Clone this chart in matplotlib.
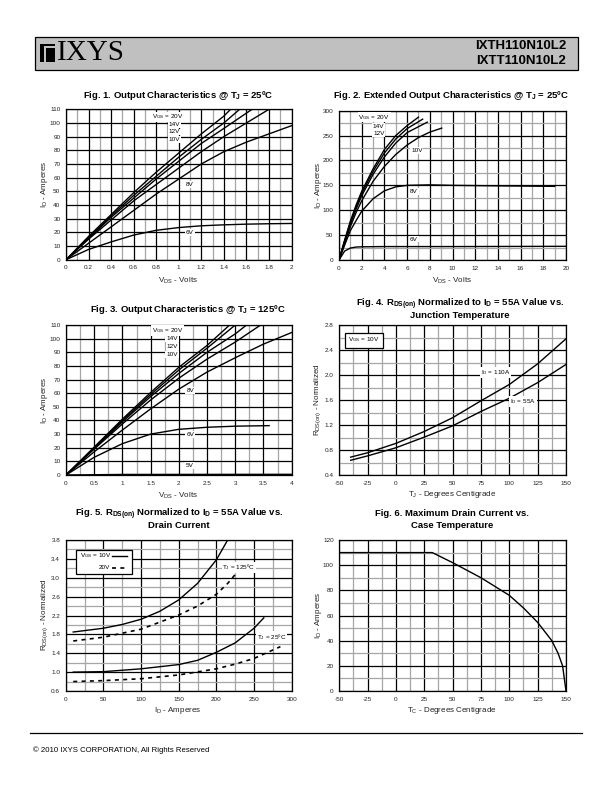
import matplotlib
matplotlib.use("Agg")
import matplotlib.pyplot as plt
from matplotlib.patches import Rectangle
from matplotlib.lines import Line2D
import numpy as np

plt.rcParams['font.family'] = ['Liberation Sans', 'DejaVu Sans']
plt.rcParams['mathtext.default'] = 'regular'

# ---------------- data ----------------
# Fig 1: output characteristics @ Tj = 25C  (VDS volts, ID amps)
f1_20v_x = [0, 0.2, 0.4, 0.6, 0.8, 1.0, 1.2, 1.4, 1.46]
f1_20v_y = [0, 17, 33, 49, 64, 78, 92, 105, 110]
f1_14v_x = [0, 0.2, 0.4, 0.6, 0.8, 1.0, 1.2, 1.4, 1.54]
f1_14v_y = [0, 16, 32, 47, 61, 75, 88, 100, 110]
f1_12v_x = [0, 0.2, 0.4, 0.6, 0.8, 1.0, 1.2, 1.4, 1.65]
f1_12v_y = [0, 15.5, 31, 45, 59, 72, 85, 96, 110]
f1_10v_x = [0, 0.2, 0.4, 0.6, 0.8, 1.0, 1.2, 1.4, 1.6, 1.8]
f1_10v_y = [0, 15, 29, 43, 55, 67, 79, 90, 100, 110]
f1_8v_x = [0, 0.2, 0.4, 0.6, 0.8, 1.0, 1.2, 1.4, 1.6, 1.8, 2.0]
f1_8v_y = [0, 12, 24, 36, 48, 59, 70, 79, 86, 92, 98]
f1_6v_x = [0, 0.2, 0.4, 0.6, 0.8, 1.0, 1.2, 1.4, 1.6, 1.8, 2.0]
f1_6v_y = [0, 7.5, 13, 18, 21.5, 23.5, 24.8, 25.5, 26, 26.3, 26.5]

# Fig 2: extended output characteristics @ Tj = 25C
f2_20v_x = [0, 0.5, 1, 1.5, 2, 3, 4, 5, 6, 7]
f2_20v_y = [0, 40, 78, 110, 138, 183, 222, 250, 270, 287]
f2_14v_x = [0, 0.5, 1, 1.5, 2, 3, 4, 5, 6, 7.37]
f2_14v_y = [0, 39, 75, 106, 134, 178, 215, 243, 264, 283]
f2_12v_x = [0, 0.5, 1, 1.5, 2, 3, 4, 5, 6, 7.78]
f2_12v_y = [0, 37, 72, 102, 129, 172, 207, 235, 256, 277]
f2_10v_x = [0, 0.5, 1, 1.5, 2, 3, 4, 5, 6, 7, 8, 9.05]
f2_10v_y = [0, 34, 67, 95, 119, 158, 188, 212, 231, 246, 257, 265]
f2_8v_x = [0, 0.5, 1, 1.5, 2, 3, 4, 5, 6, 8, 10, 14, 19]
f2_8v_y = [0, 30, 59, 79, 98, 123, 139, 147, 150, 151, 150, 149, 148]
f2_6v_x = [0, 0.5, 1, 1.5, 2, 4, 10, 20]
f2_6v_y = [0, 18, 24, 26, 26.5, 27, 27, 27.5]

# Fig 3: output characteristics @ Tj = 125C
f3_20v_x = [0, 0.5, 1, 1.5, 2, 2.5, 2.9]
f3_20v_y = [0, 20.5, 41, 60.5, 79, 95, 110]
f3_14v_x = [0, 0.5, 1, 1.5, 2, 2.5, 3.0]
f3_14v_y = [0, 20, 40, 59, 77, 93, 110]
f3_12v_x = [0, 0.5, 1, 1.5, 2, 2.5, 3.0, 3.2]
f3_12v_y = [0, 19.5, 39, 57.5, 74.5, 90, 103.5, 110]
f3_10v_x = [0, 0.5, 1, 1.5, 2, 2.5, 3.0, 3.45]
f3_10v_y = [0, 19, 37.5, 55, 71, 85, 97.5, 110]
f3_8v_x = [0, 0.5, 1, 1.5, 2, 2.5, 3.0, 3.5, 4.0]
f3_8v_y = [0, 17, 33, 48.5, 63, 75.5, 86, 96, 104.5]
f3_6v_x = [0, 0.5, 1, 1.5, 2, 2.5, 3.0, 3.6]
f3_6v_y = [0, 13, 23, 30, 33.5, 35, 35.8, 36.2]
f3_5v_x = [0, 1, 4]
f3_5v_y = [0, 0.4, 0.5]

# Fig 4: RDS(on) normalized vs junction temperature
f4_t = [-40, -25, 0, 25, 50, 75, 100, 125, 150]
f4_110a = [0.69, 0.76, 0.91, 1.10, 1.32, 1.59, 1.85, 2.18, 2.58]
f4_55a = [0.64, 0.71, 0.84, 1.01, 1.19, 1.42, 1.63, 1.88, 2.17]

# Fig 5: RDS(on) normalized vs drain current
f5_125_10v_x = [10, 25, 50, 75, 100, 125, 150, 175, 200, 215]
f5_125_10v_y = [1.85, 1.88, 1.93, 2.01, 2.12, 2.29, 2.53, 2.88, 3.38, 3.8]
f5_125_20v_x = [10, 50, 100, 150, 175, 200, 215, 232]
f5_125_20v_y = [1.66, 1.74, 1.91, 2.21, 2.40, 2.65, 2.88, 3.2]
f5_25_10v_x = [10, 50, 100, 150, 175, 200, 225, 250, 263]
f5_25_10v_y = [1.00, 1.01, 1.07, 1.16, 1.25, 1.42, 1.62, 1.93, 2.15]
f5_25_20v_x = [10, 50, 100, 150, 200, 225, 250, 285]
f5_25_20v_y = [0.80, 0.82, 0.86, 0.94, 1.07, 1.17, 1.29, 1.54]

# Fig 6: maximum drain current vs case temperature
f6_t = [-50, 32, 50, 75, 100, 112.5, 125, 137.5, 143, 147, 150]
f6_id = [110, 110, 102, 90, 76, 66, 54.5, 40, 30, 20, 0]

# ---------------- helpers ----------------
W, H = 612, 792
fig = plt.figure(figsize=(W / 100, H / 100), dpi=100)


def px(x, y):
    return x / W, 1 - y / H


def make_ax(l, t, r, b):
    return fig.add_axes([l / W, 1 - b / H, (r - l) / W, (b - t) / H])


def setup(ax, xlim, ylim, xt, yt, xminor=(), yminor=(), xfmt="{:g}", yfmt="{:g}"):
    ax.set_xlim(*xlim)
    ax.set_ylim(*ylim)
    ax.set_xticks(xt)
    ax.set_xticklabels([xfmt.format(v) for v in xt])
    ax.set_yticks(yt)
    ax.set_yticklabels([yfmt.format(v) for v in yt])
    ax.set_xticks(xminor, minor=True)
    ax.set_yticks(yminor, minor=True)
    ax.grid(True, which="minor", color="#a6a6a6", lw=0.9)
    ax.grid(True, which="major", color="black", lw=0.9)
    ax.set_axisbelow(True)
    ax.tick_params(which="both", length=0, labelsize=4.6, pad=4, colors="#222222")
    for s in ax.spines.values():
        s.set_linewidth(0.9)


def lab(ax, x, y, s, ha="center"):
    ax.text(x, y, s, fontsize=4.6, ha=ha, va="center", zorder=4,
            bbox=dict(facecolor="white", edgecolor="none", pad=0.6))


def title(x, y, *lines):
    # each line placed on its own so subscripts don't widen the line gap
    for i, s in enumerate(lines):
        fig.text(*px(x, y + 12 * i), s, ha="center", va="center", fontsize=6.8,
                 fontweight="bold")


def xlabel(x, y, s):
    fig.text(*px(x, y), s, ha="center", va="center", fontsize=5.8, color="#222222")


def ylabel(x, y, s):
    fig.text(*px(x, y), s, ha="center", va="center", fontsize=5.8, rotation=90,
             color="#222222")


LW = 1.0

# ---------------- header / footer ----------------
fig.patches.append(Rectangle(px(35, 70), 543 / W, 33 / H, transform=fig.transFigure,
                             facecolor="#c0c0c0", edgecolor="black", lw=0.9))
fig.patches.append(Rectangle(px(40, 62), 15 / W, 18 / H, transform=fig.transFigure,
                             facecolor="black", edgecolor="none"))
fig.patches.append(Rectangle(px(44, 62), 1.6 / W, 14 / H, transform=fig.transFigure,
                             facecolor="#c0c0c0", edgecolor="none"))
fig.patches.append(Rectangle(px(44, 47.5), 11 / W, 1.6 / H, transform=fig.transFigure,
                             facecolor="#c0c0c0", edgecolor="none"))
fig.text(*px(57, 53), "IXYS", fontsize=21, family="Liberation Serif", va="center")
fig.text(*px(566, 46), "IXTH110N10L2", fontsize=9.5, fontweight="bold", ha="right", va="center")
fig.text(*px(566, 61), "IXTT110N10L2", fontsize=9.5, fontweight="bold", ha="right", va="center")

fig.add_artist(Line2D([30 / W, 582 / W], [1 - 733 / H, 1 - 733 / H], color="black", lw=0.9))
fig.text(*px(33, 750), "\u00a9 2010 IXYS CORPORATION, All Rights Reserved", fontsize=5.6,
         va="center")

# ---------------- Fig 1 ----------------
ax1 = make_ax(66, 109.3, 291.5, 259.7)
setup(ax1, (0, 2), (0, 110), np.round(np.arange(0, 2.01, 0.2), 1), range(0, 111, 10),
      xminor=np.round(np.arange(0.1, 2, 0.2), 1))
for xs, ys in [(f1_20v_x, f1_20v_y), (f1_14v_x, f1_14v_y), (f1_12v_x, f1_12v_y),
               (f1_10v_x, f1_10v_y), (f1_8v_x, f1_8v_y), (f1_6v_x, f1_6v_y)]:
    ax1.plot(xs, ys, color="black", lw=LW, clip_on=True)
lab(ax1, 0.9, 104.5, "V$_{GS}$ = 20V")
lab(ax1, 0.96, 99, "14V")
lab(ax1, 0.96, 93.5, "12V")
lab(ax1, 0.96, 88, "10V")
lab(ax1, 1.1, 55, "8V")
lab(ax1, 1.1, 20, "6V")
title(178, 96, "Fig. 1. Output Characteristics @ T$_J$ = 25\u00baC")
xlabel(178, 281, "V$_{DS}$ - Volts")
ylabel(45, 184.5, "I$_D$ - Amperes")

# ---------------- Fig 2 ----------------
ax2 = make_ax(339, 110.7, 566, 260)
setup(ax2, (0, 20), (0, 300), range(0, 21, 2), range(0, 301, 50),
      xminor=range(1, 20, 2), yminor=range(25, 300, 50))
for xs, ys in [(f2_20v_x, f2_20v_y), (f2_14v_x, f2_14v_y), (f2_12v_x, f2_12v_y),
               (f2_10v_x, f2_10v_y), (f2_8v_x, f2_8v_y), (f2_6v_x, f2_6v_y)]:
    ax2.plot(xs, ys, color="black", lw=LW)
lab(ax2, 3.1, 287, "V$_{GS}$ = 20V")
lab(ax2, 3.5, 268, "14V")
lab(ax2, 3.5, 254, "12V")
lab(ax2, 6.85, 220, "10V")
lab(ax2, 6.6, 137, "8V")
lab(ax2, 6.6, 42, "6V")
title(451, 96, "Fig. 2. Extended Output Characteristics @ T$_J$ = 25\u00baC")
xlabel(452, 281, "V$_{DS}$ - Volts")
ylabel(318, 185, "I$_D$ - Amperes")

# ---------------- Fig 3 ----------------
ax3 = make_ax(66, 325, 291.7, 475)
setup(ax3, (0, 4), (0, 110), np.arange(0, 4.01, 0.5), range(0, 111, 10),
      xminor=np.arange(0.25, 4, 0.5))
for xs, ys in [(f3_20v_x, f3_20v_y), (f3_14v_x, f3_14v_y), (f3_12v_x, f3_12v_y),
               (f3_10v_x, f3_10v_y), (f3_8v_x, f3_8v_y), (f3_6v_x, f3_6v_y),
               (f3_5v_x, f3_5v_y)]:
    ax3.plot(xs, ys, color="black", lw=LW)
lab(ax3, 1.8, 105.8, "V$_{GS}$ = 20V")
lab(ax3, 1.88, 100, "14V")
lab(ax3, 1.88, 94, "12V")
lab(ax3, 1.88, 88.5, "10V")
lab(ax3, 2.2, 61.8, "8V")
lab(ax3, 2.2, 29.8, "6V")
lab(ax3, 2.2, 6.8, "5V")
title(188, 309, "Fig. 3. Output Characteristics @ T$_J$ = 125\u00baC")
xlabel(178, 496, "V$_{DS}$ - Volts")
ylabel(45, 400, "I$_D$ - Amperes")

# ---------------- Fig 4 ----------------
ax4 = make_ax(339.3, 325, 566, 475.3)
setup(ax4, (-50, 150), (0.4, 2.8), range(-50, 151, 25), np.round(np.arange(0.4, 2.81, 0.4), 1),
      xminor=np.arange(-37.5, 150, 25), yminor=np.round(np.arange(0.6, 2.8, 0.4), 1),
      yfmt="{:.1f}")
ax4.plot(f4_t, f4_110a, color="black", lw=LW)
ax4.plot(f4_t, f4_55a, color="black", lw=LW)
ax4.text(-28, 2.56, "V$_{GS}$ = 10V", fontsize=4.6, ha="center", va="center", zorder=4,
         bbox=dict(facecolor="white", edgecolor="black", lw=0.9, pad=2.2))
lab(ax4, 88, 2.04, "I$_D$ = 110A")
lab(ax4, 112, 1.58, "I$_D$ = 55A")
title(460, 304, "Fig. 4. R$_{DS(on)}$ Normalized to I$_D$ = 55A Value vs.",
      "Junction Temperature")
xlabel(452, 495, "T$_J$ - Degrees Centigrade")
ylabel(318, 400, "R$_{DS(on)}$ - Normalized")

# ---------------- Fig 5 ----------------
ax5 = make_ax(65.7, 540, 291.7, 691)
setup(ax5, (0, 300), (0.6, 3.8), range(0, 301, 50), np.round(np.arange(0.6, 3.81, 0.4), 1),
      xminor=range(25, 300, 50), yminor=np.round(np.arange(0.8, 3.8, 0.4), 1),
      yfmt="{:.1f}")
DASH = (0, (2.4, 2.6))
ax5.plot(f5_125_10v_x, f5_125_10v_y, color="black", lw=LW)
ax5.plot(f5_125_20v_x, f5_125_20v_y, color="black", lw=LW * 1.2, ls=DASH)
ax5.plot(f5_25_10v_x, f5_25_10v_y, color="black", lw=LW)
ax5.plot(f5_25_20v_x, f5_25_20v_y, color="black", lw=LW * 1.2, ls=DASH)
lab(ax5, 230, 3.22, "T$_J$ = 125\u00baC")
lab(ax5, 273, 1.75, "T$_J$ = 25\u00baC")
# legend box
ax5.add_patch(Rectangle((0.045, 0.775), 0.25, 0.16, transform=ax5.transAxes,
                        facecolor="white", edgecolor="black", lw=0.9, zorder=5))
ax5.text(0.065, 0.895, "V$_{GS}$ = 10V", transform=ax5.transAxes, fontsize=4.6,
         va="center", zorder=6)
ax5.text(0.195, 0.815, "20V", transform=ax5.transAxes, fontsize=4.6, va="center",
         ha="right", zorder=6)
ax5.plot([0.205, 0.27], [0.895, 0.895], transform=ax5.transAxes, color="black", lw=LW, zorder=6)
ax5.plot([0.205, 0.27], [0.815, 0.815], transform=ax5.transAxes, color="black",
         lw=LW * 1.2, ls=DASH, zorder=6)
title(179, 514, "Fig. 5. R$_{DS(on)}$ Normalized to I$_D$ = 55A Value vs.", "Drain Current")
xlabel(178, 711, "I$_D$ - Amperes")
ylabel(45, 615, "R$_{DS(on)}$ - Normalized")

# ---------------- Fig 6 ----------------
ax6 = make_ax(339.3, 540, 566, 691)
setup(ax6, (-50, 150), (0, 120), range(-50, 151, 25), range(0, 121, 20),
      xminor=np.arange(-37.5, 150, 25), yminor=range(10, 120, 20))
ax6.plot(f6_t, f6_id, color="black", lw=LW)
title(452, 514, "Fig. 6. Maximum Drain Current vs.", "Case Temperature")
xlabel(452, 711, "T$_C$ - Degrees Centigrade")
ylabel(318, 615, "I$_D$ - Amperes")

fig.savefig("out.png", dpi=100)
